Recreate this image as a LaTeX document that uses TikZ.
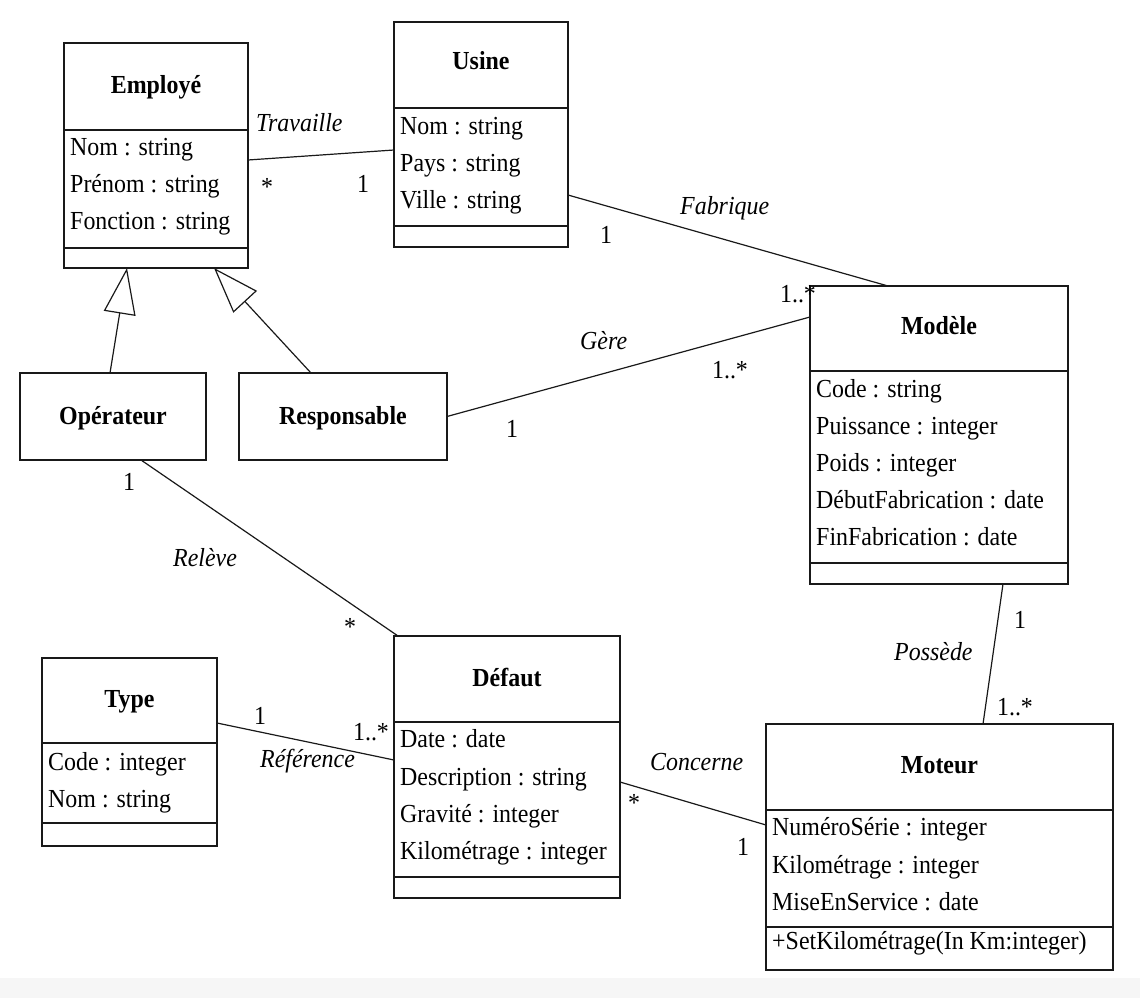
\documentclass[tikz,border=0pt]{standalone}
\usepackage{fontspec}
\setmainfont{Liberation Serif}[FakeStretch=0.92]
\usetikzlibrary{arrows.meta}
\newcommand\fsz{\fontsize{26}{31}\selectfont}
\newcommand\umlbox[5]{\node[box, minimum width={(#4-#2)*1pt}, minimum height={(#5-#3)*1pt}] (#1) at ({(#2+#4)/2},{(#3+#5)/2}) {};}
\tikzset{
  box/.style={draw, line width=1.4pt, inner sep=0pt, outer sep=0pt, draw=black!90},
  sepline/.style={line width=1.4pt, draw=black!90},
  conn/.style={line width=1.2pt, draw=black!90},
  title/.style={font=\fsz\bfseries, anchor=base, inner sep=0pt},
  attr/.style={font=\fsz, anchor=base west, inner sep=0pt},
  role/.style={font=\fsz\itshape, anchor=base west, inner sep=0pt},
  mult/.style={font=\fsz, anchor=base, inner sep=0pt},
  gen/.style={conn, -{Triangle[open, length=46pt, width=32pt]}}
}
\begin{document}
\begin{tikzpicture}[x=1pt, y=-1pt]
\useasboundingbox (0,0) rectangle (1140,998);
\fill[gray!7] (0,978) rectangle (1140,998);

% Employé
\umlbox{emp}{64}{43}{248}{268}
\draw[sepline] (64,130) -- (248,130);
\draw[sepline] (64,248) -- (248,248);
\node[title] (empT) at (156,93) {Employé};
\node[attr] (empA1) at (70,155) {Nom : string};
\node[attr] (empA2) at (70,192) {Prénom : string};
\node[attr] (empA3) at (70,229) {Fonction : string};

% Usine
\umlbox{usi}{394}{22}{568}{247}
\draw[sepline] (394,108) -- (568,108);
\draw[sepline] (394,226) -- (568,226);
\node[title] (usiT) at (481,70) {Usine};
\node[attr] (usiA1) at (400,134) {Nom : string};
\node[attr] (usiA2) at (400,171) {Pays : string};
\node[attr] (usiA3) at (400,208) {Ville : string};

% Modèle
\umlbox{mod}{810}{286}{1068}{584}
\draw[sepline] (810,371) -- (1068,371);
\draw[sepline] (810,563) -- (1068,563);
\node[title] (modT) at (939,334) {Modèle};
\node[attr] (modA1) at (816,397) {Code : string};
\node[attr] (modA2) at (816,434) {Puissance : integer};
\node[attr] (modA3) at (816,471) {Poids : integer};
\node[attr] (modA4) at (816,508) {DébutFabrication : date};
\node[attr] (modA5) at (816,545) {FinFabrication : date};

% Opérateur, Responsable
\umlbox{op}{20}{373}{206}{460}
\node[title] (opT) at (113,424) {Opérateur};
\umlbox{res}{239}{373}{447}{460}
\node[title] (resT) at (343,424) {Responsable};

% Type
\umlbox{typ}{42}{658}{217}{846}
\draw[sepline] (42,743) -- (217,743);
\draw[sepline] (42,823) -- (217,823);
\node[title] (typT) at (129.5,707) {Type};
\node[attr] (typA1) at (48,770) {Code : integer};
\node[attr] (typA2) at (48,807) {Nom : string};

% Défaut
\umlbox{def}{394}{636}{620}{898}
\draw[sepline] (394,722) -- (620,722);
\draw[sepline] (394,877) -- (620,877);
\node[title] (defT) at (507,686) {Défaut};
\node[attr] (defA1) at (400,747) {Date : date};
\node[attr] (defA2) at (400,785) {Description : string};
\node[attr] (defA3) at (400,822) {Gravité : integer};
\node[attr] (defA4) at (400,859) {Kilométrage : integer};

% Moteur
\umlbox{mot}{766}{724}{1113}{970}
\draw[sepline] (766,810) -- (1113,810);
\draw[sepline] (766,927) -- (1113,927);
\node[title] (motT) at (939.5,773) {Moteur};
\node[attr] (motA1) at (772,835) {NuméroSérie : integer};
\node[attr] (motA2) at (772,873) {Kilométrage : integer};
\node[attr] (motA3) at (772,910) {MiseEnService : date};
\node[attr] (motO1) at (772,949) {+SetKilométrage(In Km:integer)};

% Generalizations
\draw[gen] ([xshift=-3pt]op.north) -- ([xshift=-29pt]emp.south);
\draw[gen] ([xshift=-32pt]res.north) -- ([xshift=58pt]emp.south);

% Travaille
\draw[conn] ([yshift=-4.5pt]emp.east) -- ([yshift=-15.5pt]usi.west);
\node[role] (rTrav) at (256,131) {Travaille};
\node[mult] (mTrav1) at (267,195) {*};
\node[mult] (mTrav2) at (363,192) {1};

% Fabrique
\draw[conn] ([yshift=-60.5pt]usi.east) -- ([xshift=-51pt]mod.north);
\node[role] (rFab) at (680,214) {Fabrique};
\node[mult] (mFab1) at (606,243) {1};
\node[mult] (mFab2) at (798,302) {1..*};

% Gère
\draw[conn] (res.east) -- ([yshift=118pt]mod.west);
\node[role] (rGere) at (580,349) {Gère};
\node[mult] (mGere1) at (512,437) {1};
\node[mult] (mGere2) at (730,378) {1..*};

% Relève
\draw[conn] ([xshift=28pt]op.south) -- ([xshift=-109pt]def.north);
\node[role] (rRel) at (173,566) {Relève};
\node[mult] (mRel1) at (129,490) {1};
\node[mult] (mRel2) at (350,635) {*};

% Référence
\draw[conn] ([yshift=29pt]typ.east) -- ([yshift=7pt]def.west);
\node[role] (rRef) at (260,767) {Référence};
\node[mult] (mRef1) at (260,724) {1};
\node[mult] (mRef2) at (371,740) {1..*};

% Concerne
\draw[conn] ([yshift=-15pt]def.east) -- ([yshift=22pt]mot.west);
\node[role] (rCon) at (650,770) {Concerne};
\node[mult] (mCon1) at (634,811) {*};
\node[mult] (mCon2) at (743,855) {1};

% Possède
\draw[conn] ([xshift=64pt]mod.south) -- ([xshift=43.5pt]mot.north);
\node[role] (rPos) at (894,660) {Possède};
\node[mult] (mPos1) at (1020,628) {1};
\node[mult] (mPos2) at (1015,715) {1..*};
\end{tikzpicture}
\end{document}
